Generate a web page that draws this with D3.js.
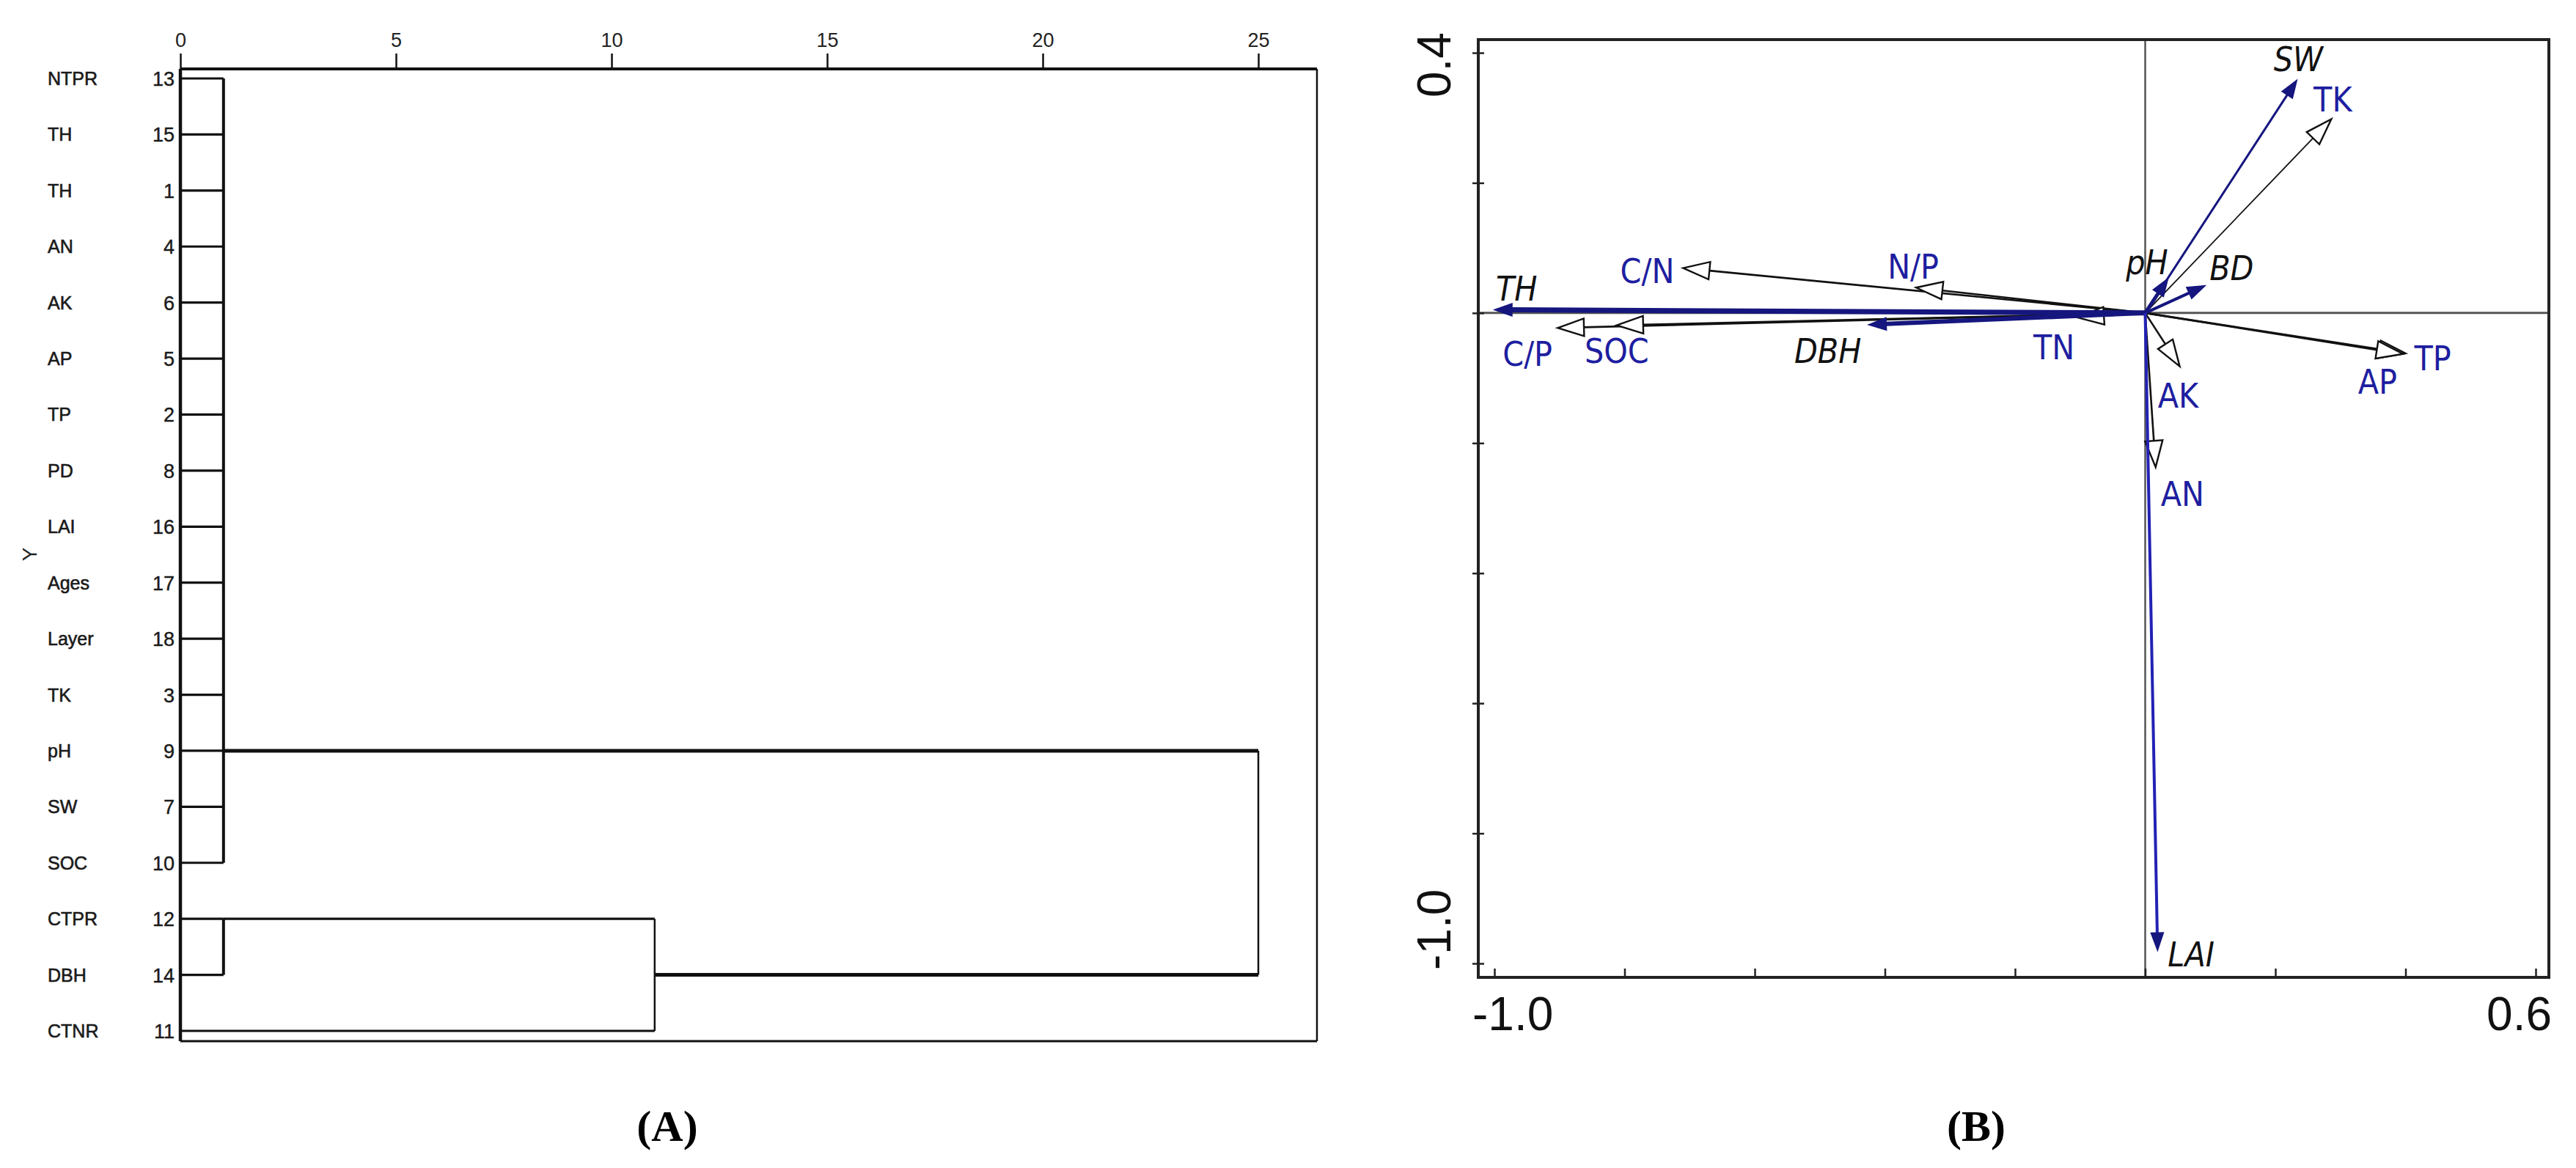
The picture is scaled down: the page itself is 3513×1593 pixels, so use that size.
<!DOCTYPE html>
<html>
<head>
<meta charset="utf-8">
<script src="https://cdn.jsdelivr.net/npm/d3@7"></script>
<style>
  html, body { margin: 0; padding: 0; background: #fff; }
  svg { display: block; }
</style>
</head>
<body>
<svg id="chart" width="3513" height="1593"></svg>
<script>
// ---------------- DATA ----------------
// Panel A: dendrogram (rows top to bottom)
const rowLabels = ["NTPR","TH","TH","AN","AK","AP","TP","PD","LAI","Ages","Layer","TK","pH","SW","SOC","CTPR","DBH","CTNR"];
const rowIds    = [13,15,1,4,6,5,2,8,16,17,18,3,9,7,10,12,14,11];
const distTicks = [0,5,10,15,20,25];
// merges: kids are row indices (leaves) or cluster ids; height = rescaled distance; outRow = row where link leaves
const clusterIds     = ["c1","c2","c3","c4"];
const clusterKids    = [[0,1,2,3,4,5,6,7,8,9,10,11,12,13,14],[15,16],["c2",17],["c1","c3"]];
const clusterHeights = [1,1,11,25];
const clusterOutRows = [12,15,16,null];

// Panel B: RDA biplot
const filledNames = ["TH","DBH","SW","pH","BD","LAI"];
const filledX     = [-1.000,-0.425,0.233,0.035,0.092,0.019];
const filledY     = [0.005,-0.018,0.358,0.053,0.042,-0.980];
const hollowNames = ["C/N","N/P","C/P","SOC","TN","TK","TP","AP","AK","AN"];
const hollowX     = [-0.710,-0.352,-0.903,-0.812,-0.104,0.286,0.400,0.396,0.053,0.016];
const hollowY     = [0.069,0.039,-0.023,-0.019,-0.007,0.298,-0.062,-0.063,-0.082,-0.237];
const xTicksB = [-1.0,-0.8,-0.6,-0.4,-0.2,0,0.2,0.4,0.6];
const yTicksB = [0.4,0.2,0,-0.2,-0.4,-0.6,-0.8,-1.0];

// ---------------- LAYOUT / STYLE ----------------
const svg = d3.select("#chart");
const sansA = "'Liberation Sans', Arial, sans-serif";
const condB = "'DejaVu Sans Condensed','DejaVu Sans', sans-serif";
const navy = "#16167f";
const blueText = "#1e1ea0";
const fmt1 = v => d3.format(".1f")(v).replace("\u2212", "-");

// ===== Panel A =====
const xA = d3.scaleLinear().domain([0, 26.36]).range([246, 1796]);
const yA = d3.scaleLinear().domain([0, 17]).range([107, 1406]);
const gA = svg.append("g");
const boxBottomA = 1420;

gA.append("line").attr("x1", xA(0)).attr("x2", xA(26.36)).attr("y1", 94).attr("y2", 94)
  .attr("stroke", "#111").attr("stroke-width", 4);
gA.append("line").attr("x1", xA(26.36)).attr("x2", xA(26.36)).attr("y1", 94).attr("y2", boxBottomA)
  .attr("stroke", "#111").attr("stroke-width", 2.5);
gA.append("line").attr("x1", xA(0)).attr("x2", xA(26.36)).attr("y1", boxBottomA).attr("y2", boxBottomA)
  .attr("stroke", "#111").attr("stroke-width", 3);
gA.append("line").attr("x1", xA(0)).attr("x2", xA(0)).attr("y1", 94).attr("y2", boxBottomA)
  .attr("stroke", "#111").attr("stroke-width", 4.5);

const axA = d3.axisTop(xA).tickValues(distTicks).tickSize(21).tickPadding(9).tickFormat(d3.format("d"));
const axAg = gA.append("g").attr("transform", "translate(0,94)").call(axA);
axAg.select(".domain").remove();
axAg.selectAll(".tick line").attr("stroke", "#111").attr("stroke-width", 2.5);
axAg.selectAll(".tick text").attr("font-family", sansA).attr("font-size", 27).attr("fill", "#222");

gA.selectAll("text.rl").data(rowLabels).join("text").attr("class", "rl")
  .attr("x", 65).attr("y", (d, i) => yA(i) + 9)
  .attr("font-family", sansA).attr("font-size", 25).attr("fill", "#1a1a1a")
  .attr("stroke", "#1a1a1a").attr("stroke-width", 0.6)
  .text(d => d);
gA.selectAll("text.rid").data(rowIds).join("text").attr("class", "rid")
  .attr("x", 238).attr("y", (d, i) => yA(i) + 10).attr("text-anchor", "end")
  .attr("font-family", sansA).attr("font-size", 27).attr("fill", "#1a1a1a")
  .attr("stroke", "#1a1a1a").attr("stroke-width", 0.4)
  .text(d => d);
gA.append("text").attr("transform", "translate(50,756) rotate(-90)")
  .attr("text-anchor", "middle").attr("font-family", sansA).attr("font-size", 28).attr("fill", "#222").text("Y");

const cl = {};
clusterIds.forEach((id, i) => cl[id] = {h: clusterHeights[i], out: clusterOutRows[i], kids: clusterKids[i]});
const kidH = k => typeof k === "number" ? 0 : cl[k].h;
const kidRow = k => typeof k === "number" ? k : cl[k].out;
clusterIds.forEach(id => {
  const c = cl[id];
  const top = id === "c4";
  c.kids.forEach(k => {
    gA.append("line").attr("x1", xA(kidH(k))).attr("x2", xA(c.h))
      .attr("y1", yA(kidRow(k))).attr("y2", yA(kidRow(k)))
      .attr("stroke", "#111").attr("stroke-width", top ? 5 : 3.2);
  });
  const rows = c.kids.map(kidRow);
  gA.append("line").attr("x1", xA(c.h)).attr("x2", xA(c.h))
    .attr("y1", yA(d3.min(rows))).attr("y2", yA(d3.max(rows)))
    .attr("stroke", "#111").attr("stroke-width", c.h <= 1 ? 4 : 2.5);
});

gA.append("text").attr("x", 910).attr("y", 1556).attr("text-anchor", "middle")
  .attr("font-family", "'Liberation Serif', 'Times New Roman', serif").attr("font-size", 60)
  .attr("font-weight", "bold").text("(A)");

// ===== Panel B =====
const xB = d3.scaleLinear().domain([-1.0, 0.6]).range([2038, 3458]);
const yB = d3.scaleLinear().domain([0.4, -1.0]).range([72, 1314]);
const gB = svg.append("g");
const bx0 = 2016, bx1 = 3476, by0 = 54, by1 = 1333;

gB.append("line").attr("x1", bx0).attr("x2", bx1).attr("y1", yB(0)).attr("y2", yB(0))
  .attr("stroke", "#555").attr("stroke-width", 3);
gB.append("line").attr("x1", xB(0)).attr("x2", xB(0)).attr("y1", by0).attr("y2", by1)
  .attr("stroke", "#555").attr("stroke-width", 2.5);
gB.append("rect").attr("x", bx0).attr("y", by0).attr("width", bx1 - bx0).attr("height", by1 - by0)
  .attr("fill", "none").attr("stroke", "#222").attr("stroke-width", 4);

const axBx = d3.axisBottom(xB).tickValues(xTicksB).tickSize(8).tickFormat("");
const gx = gB.append("g").attr("transform", `translate(0,${by1 - 12})`).call(axBx);
gx.select(".domain").remove();
gx.selectAll(".tick line").attr("stroke", "#222").attr("stroke-width", 2.5).attr("y1", 0).attr("y2", 12);
const axBy = d3.axisLeft(yB).tickValues(yTicksB).tickSize(8).tickFormat("");
const gy = gB.append("g").attr("transform", `translate(${bx0},0)`).call(axBy);
gy.select(".domain").remove();
gy.selectAll(".tick line").attr("stroke", "#222").attr("stroke-width", 2.5).attr("x1", 8).attr("x2", -8);

const lblFont = sansA;
gB.append("text").attr("x", 2008).attr("y", 1405).attr("font-family", lblFont).attr("font-size", 64)
  .attr("fill", "#111").text(fmt1(xTicksB[0]));
gB.append("text").attr("x", 3480).attr("y", 1405).attr("text-anchor", "end").attr("font-family", lblFont)
  .attr("font-size", 64).attr("fill", "#111").text(fmt1(xTicksB[xTicksB.length - 1]));
gB.append("text").attr("transform", "translate(1978,133) rotate(-90)").attr("font-family", lblFont)
  .attr("font-size", 64).attr("fill", "#111").text(fmt1(yTicksB[0]));
gB.append("text").attr("transform", "translate(1978,1323) rotate(-90)").attr("font-family", lblFont)
  .attr("font-size", 64).attr("fill", "#111").text(fmt1(yTicksB[yTicksB.length - 1]));

const ox = xB(0), oy = yB(0);
function headPts(tx, ty, L, Wd) {
  const dx = tx - ox, dy = ty - oy, len = Math.hypot(dx, dy);
  const ux = dx / len, uy = dy / len, px = -uy, py = ux;
  const bx = tx - ux * L, by = ty - uy * L;
  return {bx, by, pts: [[tx, ty], [bx + px * Wd / 2, by + py * Wd / 2], [bx - px * Wd / 2, by - py * Wd / 2]]};
}
const labelPos = {
  "TH": [2, -12, "start"], "DBH": [-10, 52, "end"], "SW": [2, -12, "middle"],
  "pH": [0, -6, "end"], "BD": [6, -8, "start"], "LAI": [14, 22, "start"],
  "C/N": [-12, 20, "end"], "N/P": [-4, -12, "middle"], "C/P": [-7, 52, "end"],
  "SOC": [0, 51, "middle"], "TN": [-4, 57, "end"], "TK": [2, -10, "middle"],
  "TP": [12, 23, "start"], "AP": [-8, 54, "end"], "AK": [-2, 56, "middle"], "AN": [7, 53, "start"]
};
const filledW = {"TH": 7, "DBH": 6, "SW": 3, "pH": 5, "BD": 4, "LAI": 4};

hollowNames.forEach((n, i) => {
  const tx = xB(hollowX[i]), ty = yB(hollowY[i]);
  const h = headPts(tx, ty, 36, 24);
  gB.append("line").attr("x1", ox).attr("y1", oy).attr("x2", h.bx).attr("y2", h.by)
    .attr("stroke", "#111").attr("stroke-width", n === "TK" ? 1.8 : 2.6);
  gB.append("polygon").attr("points", h.pts.map(p => p.join(",")).join(" "))
    .attr("fill", "#fff").attr("stroke", "#111").attr("stroke-width", 2.4).attr("stroke-linejoin", "miter");
});
filledNames.forEach((n, i) => {
  const tx = xB(filledX[i]), ty = yB(filledY[i]);
  const h = headPts(tx, ty, 24, 17);
  gB.append("line").attr("x1", ox).attr("y1", oy).attr("x2", h.bx).attr("y2", h.by)
    .attr("stroke", n === "LAI" ? "#2222b4" : navy).attr("stroke-width", filledW[n]);
  gB.append("polygon").attr("points", h.pts.map(p => p.join(",")).join(" "))
    .attr("fill", navy).attr("stroke", navy).attr("stroke-width", 1.5);
});
hollowNames.forEach((n, i) => {
  const p = labelPos[n];
  gB.append("text").attr("x", xB(hollowX[i]) + p[0]).attr("y", yB(hollowY[i]) + p[1])
    .attr("text-anchor", p[2]).attr("font-family", condB).attr("font-stretch", "condensed")
    .attr("font-size", 46).attr("fill", blueText).text(n);
});
filledNames.forEach((n, i) => {
  const p = labelPos[n];
  gB.append("text").attr("x", xB(filledX[i]) + p[0]).attr("y", yB(filledY[i]) + p[1])
    .attr("text-anchor", p[2]).attr("font-family", condB).attr("font-stretch", "condensed")
    .attr("font-style", "italic").attr("font-size", 46).attr("fill", "#111").text(n);
});

gB.append("text").attr("x", 2695).attr("y", 1556).attr("text-anchor", "middle")
  .attr("font-family", "'Liberation Serif', 'Times New Roman', serif").attr("font-size", 60)
  .attr("font-weight", "bold").text("(B)");
</script>
</body>
</html>
